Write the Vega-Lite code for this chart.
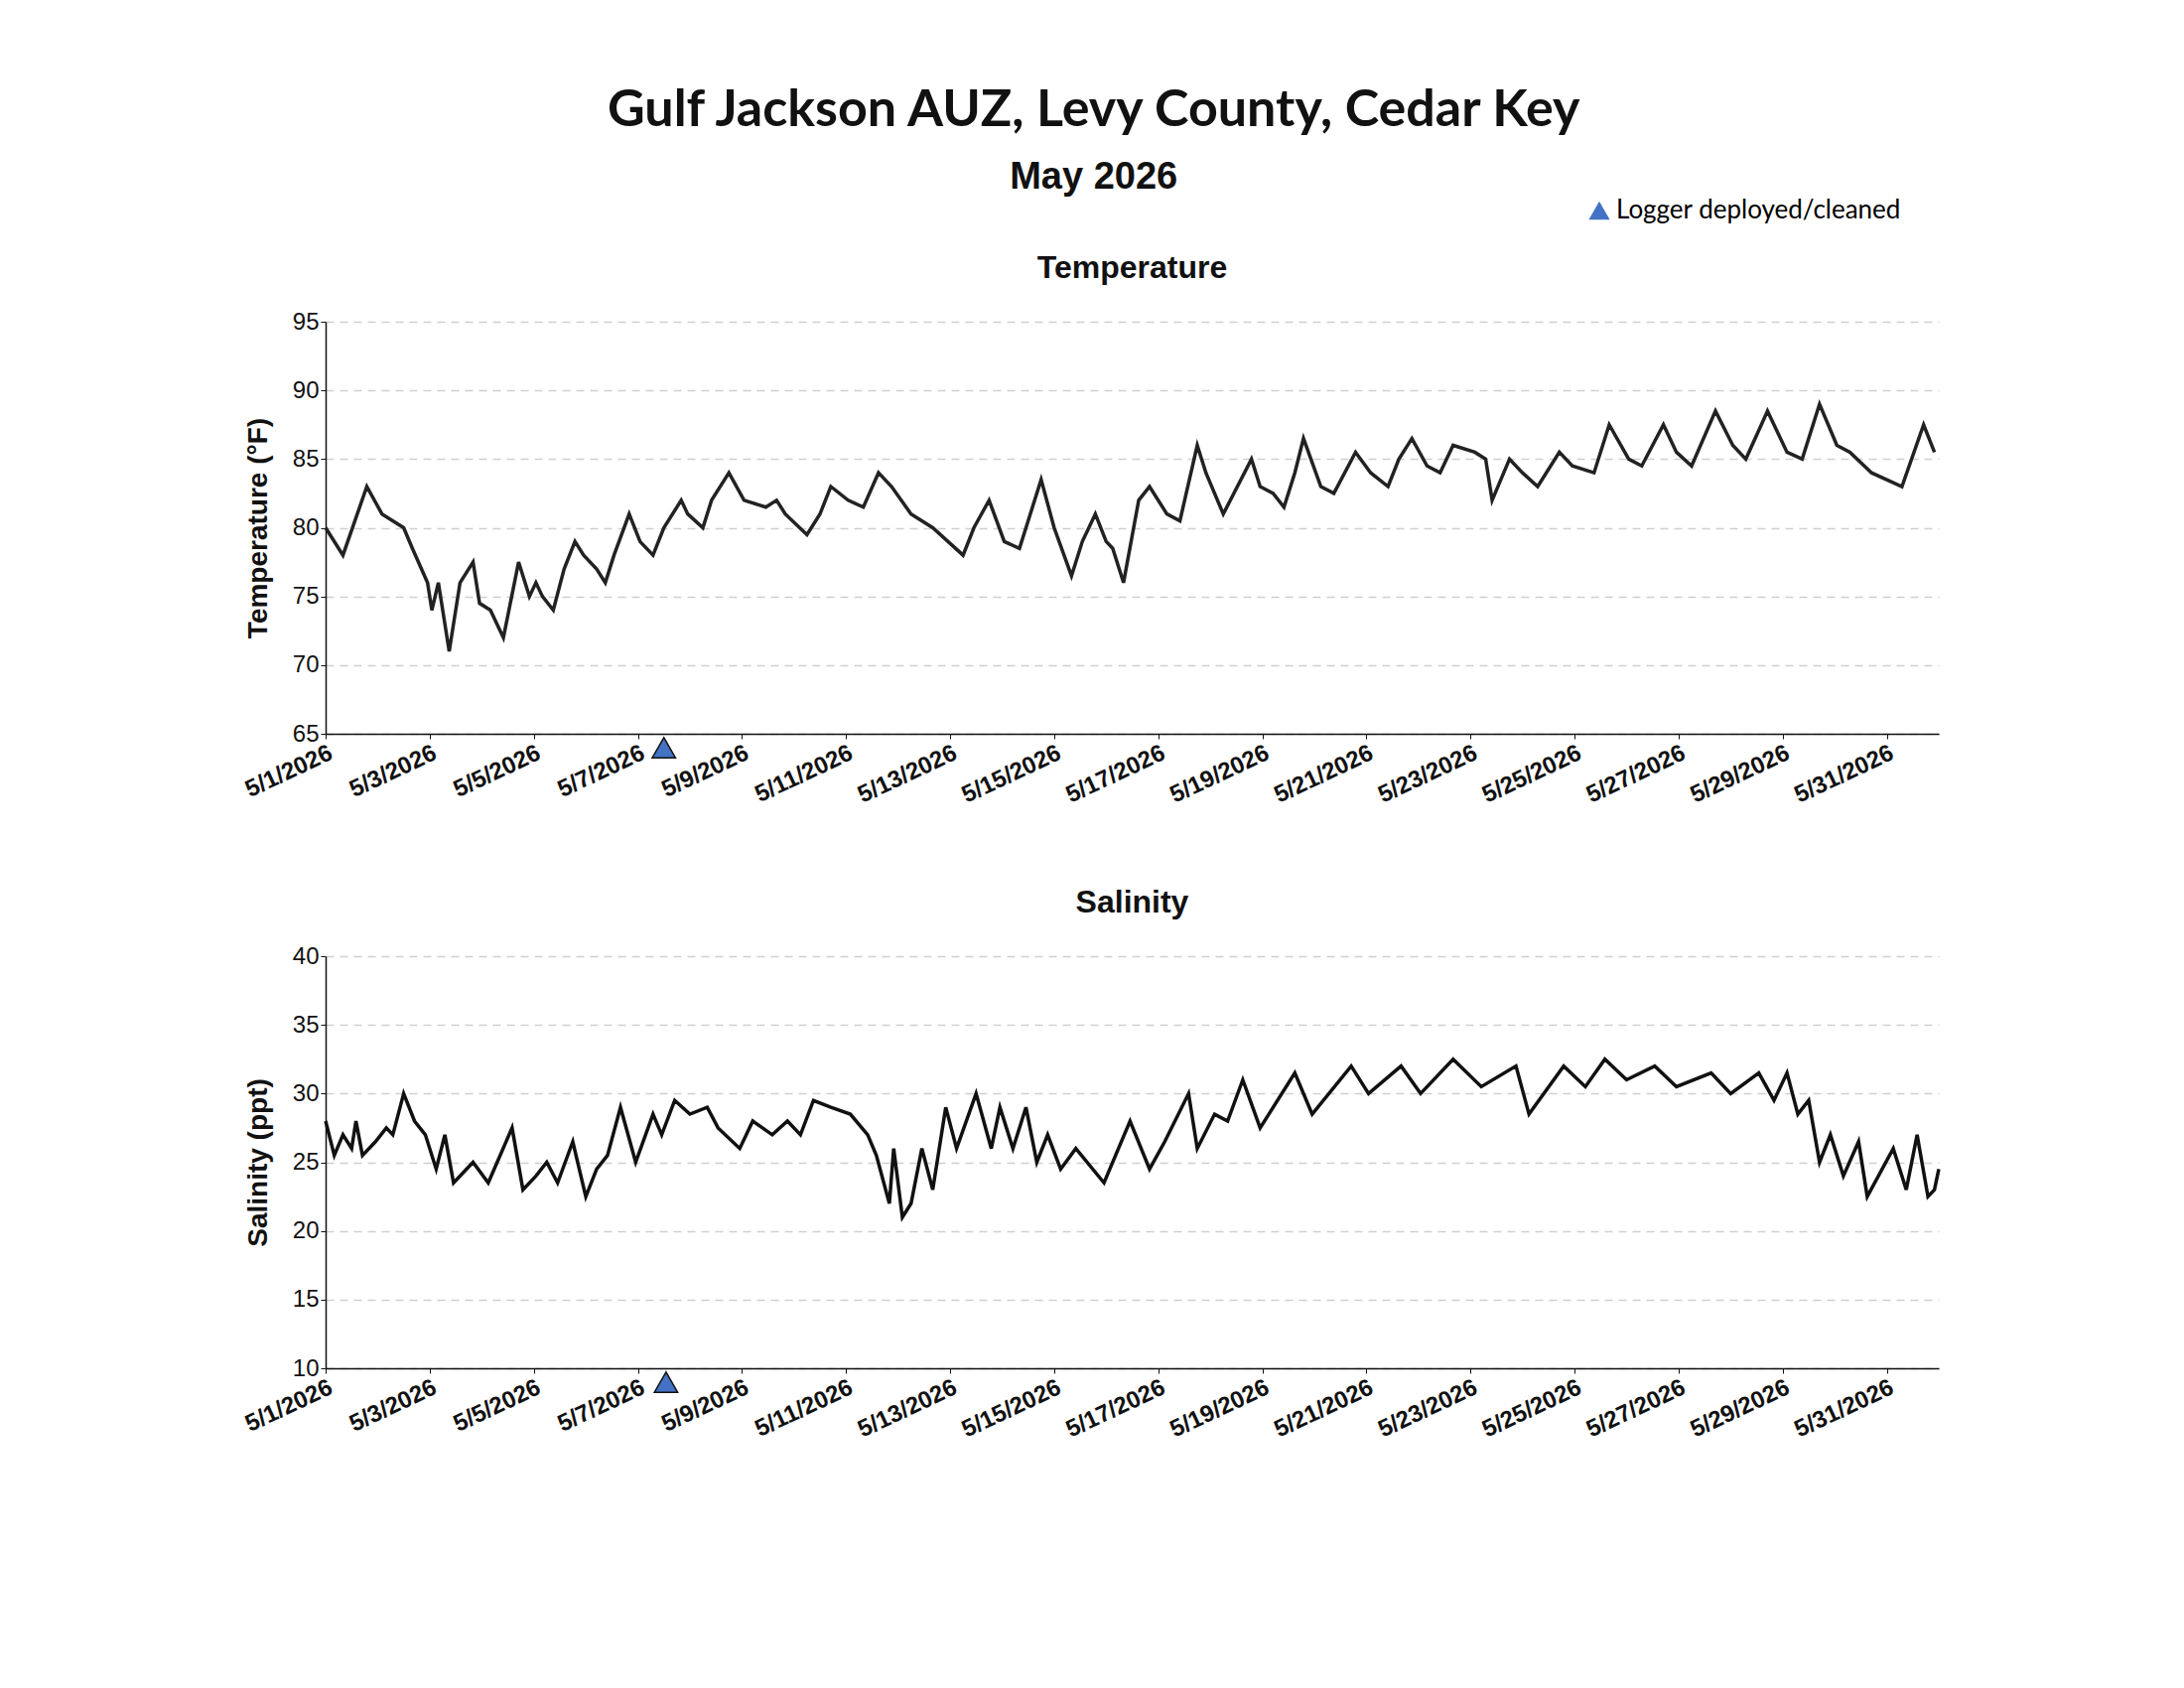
{
  "$schema": "https://vega.github.io/schema/vega-lite/v6.json",
  "background": "white",
  "padding": {"left": 243, "top": 85, "right": 10, "bottom": 10},
  "title": {
    "text": "Gulf Jackson AUZ, Levy County, Cedar Key",
    "subtitle": "May 2026",
    "font": "Lato", "fontSize": 52, "fontWeight": "bold", "color": "#111",
    "subtitleFont": "Liberation Sans", "subtitleFontSize": 38, "subtitleFontWeight": "bold",
    "subtitleColor": "#111", "subtitlePadding": 22, "offset": 0, "anchor": "middle"
  },
  "config": {
    "view": {"stroke": null},
    "font": "Liberation Sans",
    "axis": {"labelFontSize": 24, "labelColor": "#111", "titleFontSize": 28, "titleColor": "#111",
      "domainColor": "#111", "tickColor": "#111", "domainWidth": 1.5},
    "title": {"fontSize": 32, "fontWeight": "bold", "color": "#111", "font": "Liberation Sans", "offset": 25}
  },
  "datasets": {
    "temp": [
      {"t":"2026-05-01T00:00","v":80},{"t":"2026-05-01T08:00","v":78},{"t":"2026-05-01T19:00","v":83},
      {"t":"2026-05-02T02:00","v":81},{"t":"2026-05-02T12:00","v":80},{"t":"2026-05-02T16:00","v":78.5},
      {"t":"2026-05-02T23:00","v":76},{"t":"2026-05-03T01:00","v":74},{"t":"2026-05-03T04:00","v":76},
      {"t":"2026-05-03T09:00","v":71},{"t":"2026-05-03T14:00","v":76},{"t":"2026-05-03T20:00","v":77.5},
      {"t":"2026-05-03T23:00","v":74.5},{"t":"2026-05-04T04:00","v":74},{"t":"2026-05-04T10:00","v":72},
      {"t":"2026-05-04T17:00","v":77.5},{"t":"2026-05-04T22:00","v":75},{"t":"2026-05-05T01:00","v":76},
      {"t":"2026-05-05T04:00","v":75},{"t":"2026-05-05T09:00","v":74},{"t":"2026-05-05T14:00","v":77},
      {"t":"2026-05-05T19:00","v":79},{"t":"2026-05-05T23:00","v":78},{"t":"2026-05-06T05:00","v":77},
      {"t":"2026-05-06T09:00","v":76},{"t":"2026-05-06T13:00","v":78},{"t":"2026-05-06T20:00","v":81},
      {"t":"2026-05-07T01:00","v":79},{"t":"2026-05-07T07:00","v":78},{"t":"2026-05-07T12:00","v":80},
      {"t":"2026-05-07T20:00","v":82},{"t":"2026-05-07T23:00","v":81},{"t":"2026-05-08T06:00","v":80},
      {"t":"2026-05-08T10:00","v":82},{"t":"2026-05-08T18:00","v":84},{"t":"2026-05-09T01:00","v":82},
      {"t":"2026-05-09T11:00","v":81.5},{"t":"2026-05-09T16:00","v":82},{"t":"2026-05-09T20:00","v":81},
      {"t":"2026-05-10T06:00","v":79.5},{"t":"2026-05-10T12:00","v":81},{"t":"2026-05-10T17:00","v":83},
      {"t":"2026-05-11T01:00","v":82},{"t":"2026-05-11T08:00","v":81.5},{"t":"2026-05-11T15:00","v":84},
      {"t":"2026-05-11T21:00","v":83},{"t":"2026-05-12T06:00","v":81},{"t":"2026-05-12T16:00","v":80},
      {"t":"2026-05-13T06:00","v":78},{"t":"2026-05-13T11:00","v":80},{"t":"2026-05-13T18:00","v":82},
      {"t":"2026-05-14T01:00","v":79},{"t":"2026-05-14T08:00","v":78.5},{"t":"2026-05-14T13:00","v":81},
      {"t":"2026-05-14T18:00","v":83.5},{"t":"2026-05-15T00:00","v":80},{"t":"2026-05-15T08:00","v":76.5},
      {"t":"2026-05-15T13:00","v":79},{"t":"2026-05-15T19:00","v":81},{"t":"2026-05-16T00:00","v":79},
      {"t":"2026-05-16T03:00","v":78.5},{"t":"2026-05-16T08:00","v":76},{"t":"2026-05-16T15:00","v":82},
      {"t":"2026-05-16T20:00","v":83},{"t":"2026-05-17T04:00","v":81},{"t":"2026-05-17T10:00","v":80.5},
      {"t":"2026-05-17T18:00","v":86},{"t":"2026-05-17T22:00","v":84},{"t":"2026-05-18T06:00","v":81},
      {"t":"2026-05-18T19:00","v":85},{"t":"2026-05-18T23:00","v":83},{"t":"2026-05-19T05:00","v":82.5},
      {"t":"2026-05-19T10:00","v":81.5},{"t":"2026-05-19T15:00","v":84},{"t":"2026-05-19T19:00","v":86.5},
      {"t":"2026-05-20T03:00","v":83},{"t":"2026-05-20T09:00","v":82.5},{"t":"2026-05-20T19:00","v":85.5},
      {"t":"2026-05-21T02:00","v":84},{"t":"2026-05-21T10:00","v":83},{"t":"2026-05-21T15:00","v":85},
      {"t":"2026-05-21T21:00","v":86.5},{"t":"2026-05-22T04:00","v":84.5},{"t":"2026-05-22T10:00","v":84},
      {"t":"2026-05-22T16:00","v":86},{"t":"2026-05-23T02:00","v":85.5},{"t":"2026-05-23T07:00","v":85},
      {"t":"2026-05-23T10:00","v":82},{"t":"2026-05-23T18:00","v":85},{"t":"2026-05-24T00:00","v":84},
      {"t":"2026-05-24T07:00","v":83},{"t":"2026-05-24T17:00","v":85.5},{"t":"2026-05-24T23:00","v":84.5},
      {"t":"2026-05-25T09:00","v":84},{"t":"2026-05-25T16:00","v":87.5},{"t":"2026-05-26T01:00","v":85},
      {"t":"2026-05-26T07:00","v":84.5},{"t":"2026-05-26T17:00","v":87.5},{"t":"2026-05-26T23:00","v":85.5},
      {"t":"2026-05-27T06:00","v":84.5},{"t":"2026-05-27T17:00","v":88.5},{"t":"2026-05-28T01:00","v":86},
      {"t":"2026-05-28T07:00","v":85},{"t":"2026-05-28T17:00","v":88.5},{"t":"2026-05-29T02:00","v":85.5},
      {"t":"2026-05-29T09:00","v":85},{"t":"2026-05-29T17:00","v":89},{"t":"2026-05-30T01:00","v":86},
      {"t":"2026-05-30T07:00","v":85.5},{"t":"2026-05-30T17:00","v":84},{"t":"2026-05-31T07:00","v":83},
      {"t":"2026-05-31T17:00","v":87.5},{"t":"2026-05-31T22:00","v":85.5}
    ],
    "sal": [
      {"t":"2026-05-01T00:00","v":28},{"t":"2026-05-01T04:00","v":25.5},{"t":"2026-05-01T08:00","v":27},
      {"t":"2026-05-01T12:00","v":26},{"t":"2026-05-01T14:00","v":28},{"t":"2026-05-01T17:00","v":25.5},
      {"t":"2026-05-01T23:00","v":26.5},{"t":"2026-05-02T04:00","v":27.5},{"t":"2026-05-02T07:00","v":27},
      {"t":"2026-05-02T12:00","v":30},{"t":"2026-05-02T17:00","v":28},{"t":"2026-05-02T22:00","v":27},
      {"t":"2026-05-03T03:00","v":24.5},{"t":"2026-05-03T07:00","v":27},{"t":"2026-05-03T11:00","v":23.5},
      {"t":"2026-05-03T20:00","v":25},{"t":"2026-05-04T03:00","v":23.5},{"t":"2026-05-04T14:00","v":27.5},
      {"t":"2026-05-04T19:00","v":23},{"t":"2026-05-05T01:00","v":24},{"t":"2026-05-05T06:00","v":25},
      {"t":"2026-05-05T11:00","v":23.5},{"t":"2026-05-05T18:00","v":26.5},{"t":"2026-05-06T00:00","v":22.5},
      {"t":"2026-05-06T05:00","v":24.5},{"t":"2026-05-06T10:00","v":25.5},{"t":"2026-05-06T16:00","v":29},
      {"t":"2026-05-06T23:00","v":25},{"t":"2026-05-07T07:00","v":28.5},{"t":"2026-05-07T11:00","v":27},
      {"t":"2026-05-07T17:00","v":29.5},{"t":"2026-05-08T00:00","v":28.5},{"t":"2026-05-08T08:00","v":29},
      {"t":"2026-05-08T13:00","v":27.5},{"t":"2026-05-08T23:00","v":26},{"t":"2026-05-09T05:00","v":28},
      {"t":"2026-05-09T14:00","v":27},{"t":"2026-05-09T21:00","v":28},{"t":"2026-05-10T03:00","v":27},
      {"t":"2026-05-10T09:00","v":29.5},{"t":"2026-05-10T17:00","v":29},{"t":"2026-05-11T02:00","v":28.5},
      {"t":"2026-05-11T10:00","v":27},{"t":"2026-05-11T14:00","v":25.5},{"t":"2026-05-11T20:00","v":22},
      {"t":"2026-05-11T22:00","v":26},{"t":"2026-05-12T02:00","v":21},{"t":"2026-05-12T06:00","v":22},
      {"t":"2026-05-12T11:00","v":26},{"t":"2026-05-12T16:00","v":23},{"t":"2026-05-12T22:00","v":29},
      {"t":"2026-05-13T03:00","v":26},{"t":"2026-05-13T12:00","v":30},{"t":"2026-05-13T19:00","v":26},
      {"t":"2026-05-13T23:00","v":29},{"t":"2026-05-14T05:00","v":26},{"t":"2026-05-14T11:00","v":29},
      {"t":"2026-05-14T16:00","v":25},{"t":"2026-05-14T21:00","v":27},{"t":"2026-05-15T03:00","v":24.5},
      {"t":"2026-05-15T10:00","v":26},{"t":"2026-05-15T23:00","v":23.5},{"t":"2026-05-16T11:00","v":28},
      {"t":"2026-05-16T20:00","v":24.5},{"t":"2026-05-17T03:00","v":26.5},{"t":"2026-05-17T14:00","v":30},
      {"t":"2026-05-17T18:00","v":26},{"t":"2026-05-18T02:00","v":28.5},{"t":"2026-05-18T08:00","v":28},
      {"t":"2026-05-18T15:00","v":31},{"t":"2026-05-18T23:00","v":27.5},{"t":"2026-05-19T15:00","v":31.5},
      {"t":"2026-05-19T23:00","v":28.5},{"t":"2026-05-20T17:00","v":32},{"t":"2026-05-21T01:00","v":30},
      {"t":"2026-05-21T16:00","v":32},{"t":"2026-05-22T01:00","v":30},{"t":"2026-05-22T16:00","v":32.5},
      {"t":"2026-05-23T05:00","v":30.5},{"t":"2026-05-23T21:00","v":32},{"t":"2026-05-24T03:00","v":28.5},
      {"t":"2026-05-24T19:00","v":32},{"t":"2026-05-25T05:00","v":30.5},{"t":"2026-05-25T14:00","v":32.5},
      {"t":"2026-05-26T00:00","v":31},{"t":"2026-05-26T13:00","v":32},{"t":"2026-05-26T23:00","v":30.5},
      {"t":"2026-05-27T15:00","v":31.5},{"t":"2026-05-28T00:00","v":30},{"t":"2026-05-28T13:00","v":31.5},
      {"t":"2026-05-28T20:00","v":29.5},{"t":"2026-05-29T02:00","v":31.5},{"t":"2026-05-29T07:00","v":28.5},
      {"t":"2026-05-29T12:00","v":29.5},{"t":"2026-05-29T17:00","v":25},{"t":"2026-05-29T22:00","v":27},
      {"t":"2026-05-30T04:00","v":24},{"t":"2026-05-30T11:00","v":26.5},{"t":"2026-05-30T15:00","v":22.5},
      {"t":"2026-05-31T03:00","v":26},{"t":"2026-05-31T09:00","v":23},{"t":"2026-05-31T14:00","v":27},
      {"t":"2026-05-31T19:00","v":22.5},{"t":"2026-05-31T22:00","v":23},{"t":"2026-06-01T00:00","v":24.5}
    ],
    "tempMark": [{"t":"2026-05-07T12:00","v":65,"label":"Logger deployed/cleaned"}],
    "salMark": [{"t":"2026-05-07T13:00","v":10}]
  },
  "vconcat": [
    {
      "title": "Temperature",
      "width": 1625, "height": 415,
      "layer": [
        {
          "data": {"name": "temp"},
          "mark": {"type": "line", "color": "#222", "strokeWidth": 3.5},
          "encoding": {
            "x": {"field": "t", "type": "temporal",
              "scale": {"domain": [{"year":2026,"month":5,"date":1},{"year":2026,"month":6,"date":1}]},
              "axis": {"title": null, "format": "%-m/%-d/%Y", "labelAngle": -25, "labelAlign": "right",
                "labelFontWeight": "bold", "grid": false, "labelOverlap": false,
                "values": [{"year":2026,"month":5,"date":1},{"year":2026,"month":5,"date":3},{"year":2026,"month":5,"date":5},{"year":2026,"month":5,"date":7},{"year":2026,"month":5,"date":9},{"year":2026,"month":5,"date":11},{"year":2026,"month":5,"date":13},{"year":2026,"month":5,"date":15},{"year":2026,"month":5,"date":17},{"year":2026,"month":5,"date":19},{"year":2026,"month":5,"date":21},{"year":2026,"month":5,"date":23},{"year":2026,"month":5,"date":25},{"year":2026,"month":5,"date":27},{"year":2026,"month":5,"date":29},{"year":2026,"month":5,"date":31}]}},
            "y": {"field": "v", "type": "quantitative", "scale": {"domain": [65, 95], "nice": false, "zero": false},
              "axis": {"title": "Temperature (°F)", "values": [65,70,75,80,85,90,95], "gridDash": [8,6],
                "gridColor": "#d0d0d0", "gridWidth": 1.5, "titlePadding": 20}}
          }
        },
        {
          "data": {"name": "tempMark"},
          "mark": {"type": "point", "filled": true, "size": 550, "yOffset": 14, "stroke": "#111", "strokeWidth": 1.5, "opacity": 1},
          "encoding": {
            "x": {"field": "t", "type": "temporal"},
            "y": {"field": "v", "type": "quantitative"},
            "shape": {"field": "label", "type": "nominal", "scale": {"range": ["triangle-up"]},
              "legend": {"title": null, "orient": "none", "legendX": 1270, "legendY": -125, "labelLimit": 0,
                "labelFontSize": 26, "labelFont": "Lato", "symbolSize": 450, "symbolFillColor": "#4472C4", "symbolStrokeColor": "#111"}},
            "color": {"value": "#4472C4"}
          }
        }
      ]
    },
    {
      "title": "Salinity",
      "width": 1625, "height": 415,
      "layer": [
        {
          "data": {"name": "sal"},
          "mark": {"type": "line", "color": "#111", "strokeWidth": 3.5},
          "encoding": {
            "x": {"field": "t", "type": "temporal",
              "scale": {"domain": [{"year":2026,"month":5,"date":1},{"year":2026,"month":6,"date":1}]},
              "axis": {"title": null, "format": "%-m/%-d/%Y", "labelAngle": -25, "labelAlign": "right",
                "labelFontWeight": "bold", "grid": false, "labelOverlap": false,
                "values": [{"year":2026,"month":5,"date":1},{"year":2026,"month":5,"date":3},{"year":2026,"month":5,"date":5},{"year":2026,"month":5,"date":7},{"year":2026,"month":5,"date":9},{"year":2026,"month":5,"date":11},{"year":2026,"month":5,"date":13},{"year":2026,"month":5,"date":15},{"year":2026,"month":5,"date":17},{"year":2026,"month":5,"date":19},{"year":2026,"month":5,"date":21},{"year":2026,"month":5,"date":23},{"year":2026,"month":5,"date":25},{"year":2026,"month":5,"date":27},{"year":2026,"month":5,"date":29},{"year":2026,"month":5,"date":31}]}},
            "y": {"field": "v", "type": "quantitative", "scale": {"domain": [10, 40], "nice": false, "zero": false},
              "axis": {"title": "Salinity (ppt)", "values": [10,15,20,25,30,35,40], "gridDash": [8,6],
                "gridColor": "#d0d0d0", "gridWidth": 1.5, "titlePadding": 20}}
          }
        },
        {
          "data": {"name": "salMark"},
          "mark": {"type": "point", "shape": "triangle-up", "filled": true, "size": 550, "yOffset": 14,
            "color": "#4472C4", "stroke": "#111", "strokeWidth": 1.5, "opacity": 1},
          "encoding": {
            "x": {"field": "t", "type": "temporal"},
            "y": {"field": "v", "type": "quantitative"}
          }
        }
      ]
    }
  ],
  "spacing": 80
}
